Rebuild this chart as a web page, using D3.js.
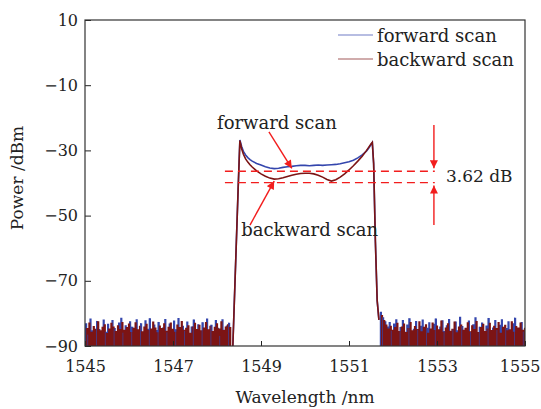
<!DOCTYPE html>
<html><head><meta charset="utf-8">
<script src="https://cdn.jsdelivr.net/npm/d3@7"></script>
<style>
body{margin:0;background:#fff;}
svg{display:block;}
text{font-family:"DejaVu Serif",serif;fill:#222;}
</style></head>
<body>
<svg id="chart" width="541" height="409"></svg>
<script>
// ---------- data ----------
const xTicks = [1545, 1547, 1549, 1551, 1553, 1555];
const yTicks = [10, -10, -30, -50, -70, -90];
const seriesNames = ["forward scan", "backward scan"];

// passband (in-band) samples, nm
const passWl = [1548.36,1548.40,1548.44,1548.48,1548.52,1548.56,1548.60,1548.65,1548.70,1548.75,1548.80,1548.90,1549.00,1549.10,1549.20,1549.30,1549.40,1549.50,1549.60,1549.70,1549.80,1549.90,1550.00,1550.10,1550.20,1550.30,1550.40,1550.50,1550.60,1550.70,1550.80,1550.90,1551.00,1551.10,1551.20,1551.30,1551.40,1551.45,1551.50,1551.53,1551.56,1551.60,1551.64,1551.68];
const passFwd = [-90,-74,-58,-42,-26.8,-28.8,-30.3,-31.4,-32.2,-32.8,-33.3,-34.0,-34.5,-35.0,-35.4,-35.6,-35.5,-35.2,-35.0,-34.9,-34.7,-34.6,-34.6,-34.7,-34.6,-34.5,-34.6,-34.5,-34.4,-34.3,-34.1,-33.8,-33.5,-33.0,-32.3,-31.4,-30.2,-29.3,-28.2,-27.6,-34,-58,-76,-82];
const passBwd = [-90,-74,-58,-42,-27.0,-29.5,-31.2,-32.6,-33.6,-34.4,-35.1,-36.3,-37.2,-37.9,-38.5,-38.8,-38.7,-38.4,-38.0,-37.6,-37.3,-37.1,-37.0,-37.0,-37.2,-37.6,-38.2,-38.9,-39.4,-39.0,-38.2,-37.2,-36.0,-34.7,-33.3,-31.8,-30.0,-29.0,-28.0,-27.5,-34,-58,-76,-82];

// out-of-band noise samples (step 0.05 nm)
const noiseStep = 0.05;
const leftFwdStart = 1545.0, leftBwdStart = 1545.025, rightFwdStart = 1551.70, rightBwdStart = 1551.725;
const leftFwd = [-83.0,-86.5,-81.6,-85.2,-87.0,-82.3,-84.8,-86.1,-81.9,-85.6,-83.2,-87.3,-82.0,-84.5,-86.4,-82.8,-81.3,-85.9,-83.6,-86.8,-82.4,-84.1,-87.2,-81.8,-85.4,-83.0,-86.3,-82.1,-84.7,-81.5,-86.0,-83.4,-85.1,-82.6,-87.1,-84.3,-81.7,-85.8,-83.1,-86.6,-82.2,-84.9,-81.4,-86.2,-83.8,-85.3,-82.5,-87.0,-84.0,-81.9,-85.5,-83.3,-86.7,-82.7,-84.6,-81.6,-85.7,-83.5,-86.1,-82.0,-84.4,-86.9,-81.8,-85.0,-83.7,-82.9,-81.5];
const leftBwd = [-84.5,-82.8,-85.6,-83.9,-84.7,-82.4,-85.2,-84.1,-83.3,-86.0,-84.6,-82.9,-84.0,-85.4,-83.6,-84.8,-82.6,-85.0,-84.2,-83.1,-85.7,-84.4,-82.7,-84.9,-83.8,-85.5,-84.0,-83.2,-85.1,-84.6,-82.5,-84.3,-85.8,-83.7,-84.5,-83.0,-85.3,-84.1,-82.8,-84.7,-85.6,-83.4,-84.2,-82.3,-85.0,-84.4,-83.6,-85.9,-84.0,-82.9,-84.8,-83.5,-85.2,-84.3,-82.6,-84.9,-83.8,-85.4,-84.1,-83.0,-84.6,-82.4,-85.1,-84.0,-83.3,-84.2,-82.0];
const rightFwd = [-79.5,-81.2,-82.4,-84.0,-82.6,-85.3,-83.1,-81.8,-86.0,-84.2,-82.0,-85.6,-83.4,-81.5,-86.4,-84.7,-82.3,-85.0,-83.8,-81.9,-86.2,-84.4,-82.7,-85.8,-83.2,-81.6,-86.6,-84.0,-82.1,-85.4,-83.6,-81.7,-86.1,-84.8,-82.5,-85.2,-81.0,-83.9,-86.3,-84.6,-82.2,-85.7,-83.3,-81.2,-86.5,-84.1,-82.8,-85.5,-83.7,-81.4,-86.8,-84.3,-82.0,-85.1,-83.5,-81.8,-86.0,-84.5,-82.4,-85.9,-83.0,-81.3,-86.4,-84.9,-82.6,-85.6,-83.2];
const rightBwd = [-80.5,-82.0,-83.4,-84.6,-83.8,-85.0,-84.2,-82.9,-85.4,-84.0,-83.1,-85.7,-84.5,-82.6,-85.2,-83.9,-84.8,-82.4,-85.5,-84.1,-83.3,-85.9,-84.6,-82.8,-85.1,-83.7,-84.9,-82.2,-85.6,-84.3,-83.0,-85.3,-84.7,-82.5,-85.8,-84.0,-83.4,-85.0,-84.4,-82.7,-85.5,-83.6,-84.8,-82.3,-85.7,-84.2,-83.2,-85.4,-84.6,-82.9,-85.1,-83.8,-84.5,-82.6,-85.9,-84.1,-83.5,-85.2,-84.9,-82.4,-85.6,-83.9,-84.3,-82.8,-85.0,-84.4,-83.6];

// annotation data
const dashLevels = [-36.4, -39.9];
const dashRange = [1548.18, 1552.95];
const diffLabel = "3.62 dB";
const arrowWl = 1552.93;
const arrowTop = [-22.2, -35.5];
const arrowBottom = [-52.9, -40.8];
const fwdNote = {text: "forward scan", at: [1548.0, -23.5], from: [1549.18, -24.3], to: [1549.70, -35.5]};
const bwdNote = {text: "backward scan", at: [1548.55, -56.2], from: [1548.75, -52.9], to: [1549.30, -39.4]};

// ---------- chart ----------
const W = 541, H = 409;
const m = {l: 85, r: 16, t: 20, b: 63};
const svg = d3.select("#chart");
const x = d3.scaleLinear().domain([1545, 1555]).range([m.l, W - m.r]);
const y = d3.scaleLinear().domain([-90, 10]).range([H - m.b, m.t]);
const colFwd = "#3446ad", colBwd = "#7c1414", colAnn = "#f21d1d";

const defs = svg.append("defs");
defs.append("clipPath").attr("id", "pc")
  .append("rect").attr("x", m.l).attr("y", m.t).attr("width", W - m.l - m.r).attr("height", H - m.t - m.b);

function noisePts(start, vals) { return vals.map((v, i) => [start + i * noiseStep, v]); }
const areaStep = d3.area().x(d => x(d[0])).y0(y(-90)).y1(d => y(d[1])).curve(d3.curveStepAfter);

const g = svg.append("g").attr("clip-path", "url(#pc)");
// blue noise first
[[leftFwdStart, leftFwd], [rightFwdStart, rightFwd]].forEach(([s, v]) => {
  g.append("path").datum(noisePts(s, v)).attr("d", areaStep).attr("fill", colFwd);
});
[[leftBwdStart, leftBwd], [rightBwdStart, rightBwd]].forEach(([s, v]) => {
  g.append("path").datum(noisePts(s, v)).attr("d", areaStep).attr("fill", colBwd);
});
// thin blue streaks inside
[[leftFwdStart, leftFwd], [rightFwdStart, rightFwd]].forEach(([s, v]) => {
  g.selectAll(null).data(noisePts(s, v).filter((d, i) => i % 4 === 1)).enter().append("line")
    .attr("x1", d => x(d[0]) + 0.5).attr("x2", d => x(d[0]) + 0.5)
    .attr("y1", y(-90)).attr("y2", d => y(d[1]))
    .attr("stroke", colFwd).attr("stroke-width", 0.8).attr("opacity", 0.8);
});

const line = d3.line().x(d => x(d[0])).y(d => y(d[1]));
g.append("path").datum(passWl.map((w, i) => [w, passFwd[i]])).attr("d", line)
  .attr("fill", "none").attr("stroke", colFwd).attr("stroke-width", 1.6);
g.append("path").datum(passWl.map((w, i) => [w, passBwd[i]])).attr("d", line)
  .attr("fill", "none").attr("stroke", colBwd).attr("stroke-width", 1.6);

// axes
const xa = svg.append("g").attr("transform", `translate(0,${H - m.b})`)
  .call(d3.axisBottom(x).tickValues(xTicks).tickFormat(d3.format("d")).tickSize(-5).tickPadding(15));
const ya = svg.append("g").attr("transform", `translate(${m.l},0)`)
  .call(d3.axisLeft(y).tickValues(yTicks).tickFormat(d => d < 0 ? "\u2212" + Math.abs(d) : d).tickSize(-6).tickPadding(7));
[xa, ya].forEach(a => {
  a.select(".domain").remove();
  a.selectAll(".tick line").attr("stroke", "#222");
  a.selectAll("text").attr("font-size", 16).attr("font-family", "DejaVu Serif").attr("fill", "#222");
});
// keep last x label inside the picture
xa.selectAll(".tick text").filter(d => d === xTicks[xTicks.length - 1])
  .attr("text-anchor", "end").attr("x", 15);

svg.append("rect").attr("x", m.l).attr("y", m.t).attr("width", W - m.l - m.r).attr("height", H - m.t - m.b)
  .attr("fill", "none").attr("stroke", "#333").attr("stroke-width", 1.2);

svg.append("text").attr("x", (m.l + W - m.r) / 2).attr("y", 403).attr("text-anchor", "middle")
  .attr("font-size", 17).text("Wavelength /nm");
svg.append("text").attr("transform", `translate(23,${(m.t + H - m.b) / 2 - 5}) rotate(-90)`).attr("text-anchor", "middle")
  .attr("font-size", 17).text("Power /dBm");

// legend
const leg = svg.append("g");
seriesNames.forEach((n, i) => {
  const yy = 35 + i * 24;
  leg.append("line").attr("x1", 338).attr("x2", 373).attr("y1", yy).attr("y2", yy)
    .attr("stroke", i === 0 ? colFwd : colBwd).attr("stroke-width", 1.2).attr("opacity", 0.7);
  leg.append("text").attr("x", 377).attr("y", yy + 7).attr("font-size", 18).text(n);
});

// annotations
defs.append("marker").attr("id", "ah").attr("viewBox", "0 0 10 10").attr("refX", 10).attr("refY", 5)
  .attr("markerWidth", 10).attr("markerHeight", 8).attr("markerUnits", "userSpaceOnUse").attr("orient", "auto")
  .append("path").attr("d", "M0,0L10,5L0,10Z").attr("fill", colAnn);

svg.selectAll(".dash").data(dashLevels).enter().append("line")
  .attr("x1", x(dashRange[0])).attr("x2", x(dashRange[1])).attr("y1", d => y(d)).attr("y2", d => y(d))
  .attr("stroke", colAnn).attr("stroke-width", 1.4).attr("stroke-dasharray", "8,5");

[arrowTop, arrowBottom].forEach(a => {
  svg.append("line").attr("x1", x(arrowWl)).attr("x2", x(arrowWl)).attr("y1", y(a[0])).attr("y2", y(a[1]))
    .attr("stroke", colAnn).attr("stroke-width", 1.4).attr("marker-end", "url(#ah)");
});
svg.append("text").attr("x", x(arrowWl) + 12).attr("y", 182).attr("font-size", 17).text(diffLabel);

[fwdNote, bwdNote].forEach(n => {
  svg.append("text").attr("x", x(n.at[0])).attr("y", y(n.at[1])).attr("font-size", 18).text(n.text);
  svg.append("line").attr("x1", x(n.from[0])).attr("y1", y(n.from[1])).attr("x2", x(n.to[0])).attr("y2", y(n.to[1]))
    .attr("stroke", colAnn).attr("stroke-width", 1.4).attr("marker-end", "url(#ah)");
});
</script>
</body></html>
